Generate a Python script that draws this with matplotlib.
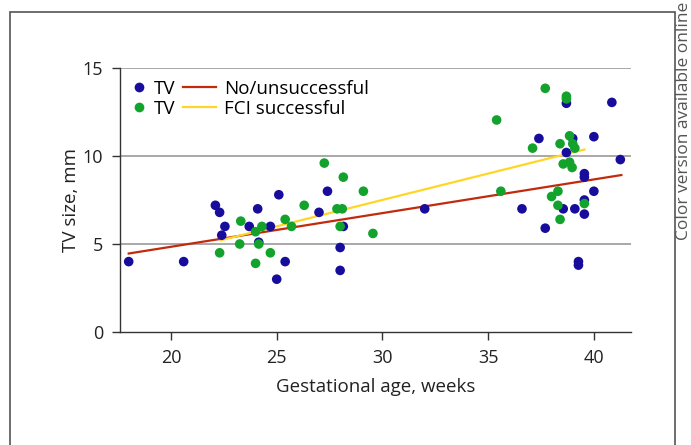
import matplotlib
matplotlib.use("Agg")
import matplotlib.pyplot as plt
from matplotlib.lines import Line2D
from matplotlib.patches import Rectangle

plt.rcParams['font.family'] = ['Open Sans', 'DejaVu Sans']

# Data
blue_x = [18.0, 20.6, 22.1, 22.3, 22.55, 22.4, 23.7, 24.1, 24.15, 24.7, 25.1, 25.4,
          25.0, 27.0, 27.4, 28.0, 28.0, 28.15, 32.0, 36.6, 37.4, 37.7, 38.7, 38.7,
          39.0, 38.55, 39.1, 39.27, 39.27, 39.55, 39.55, 39.55, 39.55, 40.0, 40.0,
          40.85, 41.25]
blue_y = [4.0, 4.0, 7.2, 6.8, 6.0, 5.5, 6.0, 7.0, 5.1, 6.0, 7.8, 4.0,
          3.0, 6.8, 8.0, 4.8, 3.5, 6.0, 7.0, 7.0, 11.0, 5.9, 13.0, 10.2,
          11.0, 7.0, 7.0, 4.0, 3.8, 9.0, 8.8, 7.5, 6.7, 11.1, 8.0,
          13.05, 9.8]

green_x = [22.3, 23.3, 23.25, 24.0, 24.3, 24.15, 24.0, 24.7, 25.4, 25.7, 26.3, 27.25,
           27.85, 28.1, 28.15, 28.0, 29.1, 29.55, 35.4, 35.6, 37.1, 37.7, 38.7, 38.7,
           38.85, 38.4, 39.0, 39.1, 38.55, 38.85, 38.97, 38.0, 38.3, 38.3, 38.4, 39.55]
green_y = [4.5, 6.3, 5.0, 5.7, 6.0, 5.0, 3.9, 4.5, 6.4, 6.0, 7.2, 9.6,
           7.0, 7.0, 8.8, 6.0, 8.0, 5.6, 12.05, 8.0, 10.45, 13.85, 13.4, 13.25,
           11.15, 10.7, 10.7, 10.45, 9.55, 9.65, 9.35, 7.7, 8.0, 7.2, 6.4, 7.3]

# fitted lines (end points)
red_x = [18.0, 41.3]
red_y = [4.46, 8.92]
yellow_x = [22.35, 39.55]
yellow_y = [5.21, 10.37]

x_ticks = [20, 25, 30, 35, 40]
y_ticks = [0, 5, 10, 15]

blue = "#170c9c"
green = "#13a22c"
red = "#c22a0c"
yellow = "#ffd526"
dark = "#333333"

fig = plt.figure(figsize=(6.91, 4.45), dpi=100)
ax = fig.add_axes([0.1737, 0.254, 0.7393, 0.593])

for y in [5, 10, 15]:
    ax.axhline(y, color="#9a9a9a", lw=1.2, zorder=1)

ax.plot(red_x, red_y, color=red, lw=1.6, zorder=2)
ax.plot(yellow_x, yellow_y, color=yellow, lw=1.6, zorder=2)
ax.scatter(blue_x, blue_y, s=48, color=blue, edgecolors="none", zorder=3)
ax.scatter(green_x, green_y, s=48, color=green, edgecolors="none", zorder=4)

ax.set_xlim(17.59, 41.75)
ax.set_ylim(0, 15)
ax.set_xticks(x_ticks)
ax.set_yticks(y_ticks)
ax.tick_params(direction="out", length=6, width=1, color=dark, labelsize=13,
               labelcolor="#222222", pad=6)
for s in ["top", "right"]:
    ax.spines[s].set_visible(False)
for s in ["left", "bottom"]:
    ax.spines[s].set_color(dark)
    ax.spines[s].set_linewidth(1)

ax.set_xlabel("Gestational age, weeks", fontsize=13.5, color="#222222", labelpad=8)
ax.set_ylabel("TV size, mm", fontsize=13.5, color="#222222", labelpad=2)

# legends
h_dots = [Line2D([], [], ls="none", marker="o", ms=7, color=blue, mec="none"),
          Line2D([], [], ls="none", marker="o", ms=7, color=green, mec="none")]
leg1 = ax.legend(h_dots, ["TV", "TV"], loc="upper left", bbox_to_anchor=(0.0, 1.005),
                 frameon=False, fontsize=13.5, handlelength=0.6, handletextpad=0.5,
                 labelspacing=0.1, borderaxespad=0.3)
ax.add_artist(leg1)
h_lines = [Line2D([], [], color=red, lw=1.6), Line2D([], [], color=yellow, lw=1.6)]
ax.legend(h_lines, ["No/unsuccessful", "FCI successful"], loc="upper left",
          bbox_to_anchor=(0.098, 1.005), frameon=False, fontsize=13.5, handlelength=1.75,
          handletextpad=0.45, labelspacing=0.1, borderaxespad=0.3)

# outer frame and side note
fig.patches.append(Rectangle((10 / 691, -0.1), 665 / 691, 1.1 - 12 / 445,
                             transform=fig.transFigure, fill=False,
                             edgecolor="#555555", lw=1.2))
fig.text(684 / 691, 0.997, "Color version available online", rotation=90,
         ha="center", va="top", fontsize=12.5, color="#555555")

fig.savefig("out.png", dpi=100)
